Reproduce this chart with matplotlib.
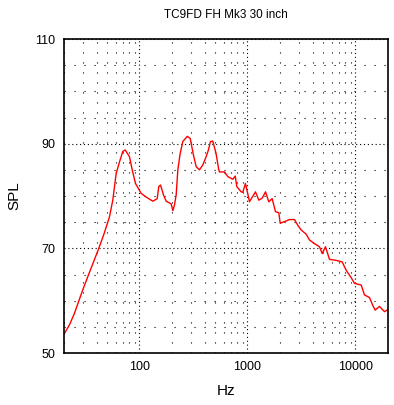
import matplotlib.pyplot as plt
from matplotlib.ticker import FixedLocator, LogLocator, NullFormatter
import numpy as np

plt.rcParams['font.family'] = ['Liberation Sans', 'DejaVu Sans']

title = "TC9FD FH Mk3 30 inch"

# frequency response
freq = [20, 22.5, 25, 27.5, 30, 35, 42, 47, 52.7, 56.6, 60.8, 65.3, 70, 73.7,
        80.8, 85.6, 91.8, 103.6, 115.3, 132.8, 145.9, 150.9, 156.5, 162,
        166.8, 176.7, 196.5, 203.6, 210.9, 218.6, 226.5, 238, 251.8, 276.6,
        294.8, 316, 335, 359, 385, 414, 435, 454, 477, 512, 542, 550, 612,
        658, 731, 770, 796, 874, 904, 957, 1027, 1043, 1186, 1273, 1369, 1469,
        1575, 1693, 1816, 1950, 2009, 2202, 2449, 2724, 2923, 3143, 3497,
        3750, 4170, 4642, 4918, 5272, 5743, 6620, 7530, 8200, 9120, 9790,
        11290, 12110, 13480, 14460, 15210, 16680, 18560, 20000]
spl = [53.6, 55.4, 57.6, 60.0, 62.2, 65.8, 70.0, 72.8, 76.0, 79.2, 84.3, 86.5,
       88.5, 88.8, 87.5, 85.0, 82.4, 80.5, 79.8, 79.0, 79.5, 81.8, 82.1, 81.1,
       80.2, 79.0, 78.5, 77.2, 78.3, 80.2, 85.0, 88.1, 90.4, 91.4, 91.0, 87.8,
       85.6, 85.0, 85.9, 87.5, 88.8, 90.4, 90.5, 88.1, 85.0, 84.6, 84.6, 83.7,
       83.2, 83.8, 81.8, 80.8, 80.7, 82.4, 79.6, 78.9, 80.8, 79.2, 79.6, 80.8,
       78.9, 79.5, 77.0, 76.8, 74.8, 75.1, 75.5, 75.5, 74.4, 73.5, 72.7, 71.6,
       70.9, 70.3, 69.0, 70.3, 67.9, 67.7, 67.4, 65.8, 64.4, 63.3, 63.0, 61.1,
       60.6, 59.1, 58.2, 58.9, 57.9, 58.3]

x_ticks = [100, 1000, 10000]
x_labels = ["100", "1000", "10000"]
y_ticks = [50, 70, 90, 110]

fig = plt.figure(figsize=(3.94, 4.05), dpi=100)
ax = fig.add_axes([64/394, 1 - 353/405, 324/394, 314/405])

ax.plot(freq, spl, color="red", lw=1.0)

ax.set_xscale("log")
ax.set_xlim(20, 20000)
ax.set_ylim(50, 110)
ax.xaxis.set_major_locator(FixedLocator(x_ticks))
ax.set_xticklabels(x_labels)
ax.xaxis.set_minor_locator(LogLocator(base=10, subs=np.arange(2, 10)))
ax.xaxis.set_minor_formatter(NullFormatter())
ax.yaxis.set_major_locator(FixedLocator(y_ticks))
ax.yaxis.set_minor_locator(FixedLocator(np.arange(50, 111, 5)))
ax.tick_params(which="both", length=0, labelsize=9, pad=6)

ax.grid(which="major", color="black", lw=0.8, linestyle=(0, (1, 2.5)))
ax.grid(which="minor", color="black", lw=0.8, linestyle=(0, (1, 8)))
for s in ax.spines.values():
    s.set_linewidth(1.2)

ax.set_title(title, fontsize=8.5, pad=15)
ax.set_xlabel("Hz", fontsize=11, labelpad=8)
ax.set_ylabel("SPL", fontsize=11, labelpad=10)

plt.savefig("out.png")
